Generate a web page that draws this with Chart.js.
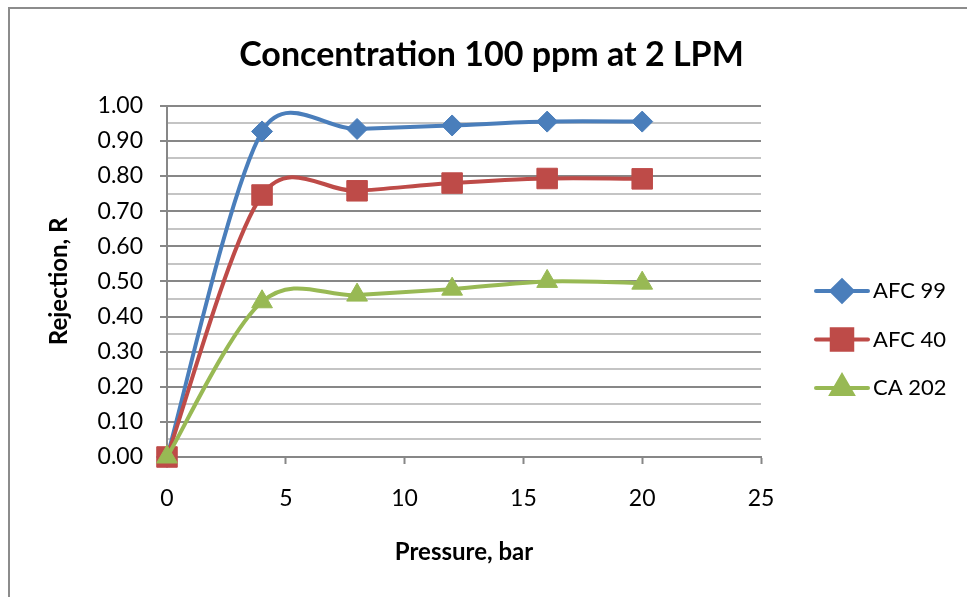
<!DOCTYPE html>
<html>
<head>
<meta charset="utf-8">
<script src="https://cdn.jsdelivr.net/npm/chart.js@4.4.1/dist/chart.umd.min.js"></script>
<style>
    html, body { margin: 0; padding: 0; background: #fff; }
    .chart-box { position: relative; width: 967px; height: 597px; }
</style>
</head>
<body>
<div class="chart-box"><canvas id="rejectionChart"></canvas></div>
<script>
const pressure = [0, 4, 8, 12, 16, 20];
const afc99 = [0, 0.927, 0.934, 0.944, 0.955, 0.955];
const afc40 = [0, 0.746, 0.758, 0.780, 0.793, 0.792];
const ca202 = [0, 0.442, 0.461, 0.478, 0.500, 0.495];
const seriesNames = ["AFC 99", "AFC 40", "CA 202"];

const FONT = "Lato, 'Open Sans', sans-serif";
const GRID_MAJOR = "#878787";
const GRID_MINOR = "#c4c4c4";

function toPoints(ys) {
    return pressure.map((x, i) => ({ x: x, y: ys[i] }));
}

function isMajor(v) {
    return Math.abs(Math.round(v * 10) - v * 10) < 1e-6;
}

// excel-ish smoothing: tangent along (next - prev), length capped by the neighbouring segment
const excelSmooth = {
    id: "excelSmooth",
    beforeDatasetsDraw(chart) {
        chart.getSortedVisibleDatasetMetas().forEach((meta) => {
            meta.dataset.updateControlPoints(chart.chartArea, "x");
            const pts = meta.data;
            const n = pts.length;
            pts.forEach((pt, i) => {
                const prev = pts[Math.max(i - 1, 0)];
                const next = pts[Math.min(i + 1, n - 1)];
                const tx = next.x - prev.x;
                const ty = next.y - prev.y;
                const tl = Math.hypot(tx, ty) || 1;
                const back = Math.min(tl / 6, 0.5 * Math.hypot(pt.x - prev.x, pt.y - prev.y));
                const fwd = Math.min(tl / 6, 0.5 * Math.hypot(next.x - pt.x, next.y - pt.y));
                pt.cp1x = pt.x - (tx / tl) * back;
                pt.cp1y = pt.y - (ty / tl) * back;
                pt.cp2x = pt.x + (tx / tl) * fwd;
                pt.cp2y = pt.y + (ty / tl) * fwd;
            });
        });
    },
};

// frame round the whole chart, and the legend at the right
const excelFrame = {
    id: "excelFrame",
    beforeDraw(chart) {
        const ctx = chart.ctx;
        ctx.save();
        ctx.fillStyle = "#fff";
        ctx.fillRect(0, 0, chart.width, chart.height);
        ctx.strokeStyle = "#8c8c8c";
        ctx.lineWidth = 2;
        ctx.strokeRect(9, 8, chart.width + 20, chart.height + 20);
        ctx.restore();
    },
    afterDraw(chart) {
        const ctx = chart.ctx;
        const sets = chart.data.datasets;
        ctx.save();
        ctx.font = "22px " + FONT;
        ctx.textBaseline = "middle";
        ctx.textAlign = "left";
        sets.forEach((ds, i) => {
            const y = 291 + i * 48.5;
            ctx.strokeStyle = ds.borderColor;
            ctx.lineWidth = 4;
            ctx.lineCap = "round";
            ctx.beginPath();
            ctx.moveTo(816, y);
            ctx.lineTo(868, y);
            ctx.stroke();
            ctx.fillStyle = ds.borderColor;
            Chart.helpers.drawPoint(ctx, {
                pointStyle: ds.pointStyle,
                radius: ds.pointRadius,
                borderWidth: 1,
                rotation: 0,
            }, 842, y);
            ctx.fill();
            ctx.fillStyle = "#000";
            ctx.fillText(ds.label, 873, y);
        });
        ctx.restore();
    },
};

var lineData = {
    datasets: [
        {
            label: seriesNames[0],
            data: toPoints(afc99),
            borderColor: "#4a7ebb",
            backgroundColor: "#4a7ebb",
            pointStyle: "rectRot",
            pointRadius: 10.5,
            order: 2,
        },
        {
            label: seriesNames[1],
            data: toPoints(afc40),
            borderColor: "#be4b48",
            backgroundColor: "#be4b48",
            pointStyle: "rect",
            pointRadius: 14.5,
            order: 1,
        },
        {
            label: seriesNames[2],
            data: toPoints(ca202),
            borderColor: "#98b954",
            backgroundColor: "#98b954",
            pointStyle: "triangle",
            pointRadius: 12,
            order: 0,
        },
    ],
};

new Chart(document.querySelector("#rejectionChart"), {
    type: "line",
    data: lineData,
    plugins: [excelFrame, excelSmooth],
    options: {
        responsive: true,
        maintainAspectRatio: false,
        animation: false,
        layout: { padding: { top: 0, left: 16, right: 0, bottom: 0 } },
        datasets: {
            line: {
                borderWidth: 4,
                tension: 0.5,
                clip: false,
                pointBorderWidth: 1,
                pointHoverRadius: 12,
            },
        },
        elements: { line: { capBezierPoints: false } },
        plugins: {
            legend: { display: false },
            tooltip: { enabled: false },
            title: {
                display: true,
                text: "Concentration 100 ppm at 2 LPM",
                color: "#000",
                font: { family: FONT, size: 34, weight: "bold" },
                padding: { top: 35, bottom: 30 },
            },
        },
        scales: {
            x: {
                type: "linear",
                min: 0,
                max: 25,
                afterFit(scale) { scale.height = 140; },
                ticks: {
                    stepSize: 5,
                    color: "#000",
                    padding: 21,
                    maxRotation: 0,
                    font: { family: FONT, size: 23 },
                },
                grid: {
                    drawOnChartArea: false,
                    drawTicks: true,
                    tickLength: 7,
                    tickColor: GRID_MAJOR,
                    tickWidth: 2,
                },
                border: { color: GRID_MAJOR, width: 2 },
                title: {
                    display: true,
                    text: "Pressure, bar",
                    color: "#000",
                    font: { family: FONT, size: 24, weight: "bold" },
                    padding: { top: 0, bottom: 30 },
                },
            },
            y: {
                min: 0,
                max: 1,
                afterFit(scale) { scale.width = 151; },
                ticks: {
                    stepSize: 0.05,
                    autoSkip: false,
                    color: "#000",
                    padding: 17,
                    font: { family: FONT, size: 23 },
                    callback: (v) => (isMajor(v) ? v.toFixed(2) : ""),
                },
                grid: {
                    color: (c) => (isMajor(c.tick.value) ? GRID_MAJOR : GRID_MINOR),
                    tickColor: (c) => (isMajor(c.tick.value) ? GRID_MAJOR : "rgba(0,0,0,0)"),
                    lineWidth: 2,
                    tickLength: 7,
                },
                border: { color: GRID_MAJOR, width: 2 },
                title: {
                    display: true,
                    text: "Rejection, R",
                    color: "#000",
                    font: { family: FONT, size: 24, weight: "bold" },
                    padding: { top: 29, bottom: 0 },
                },
            },
            // empty space on the right where the legend sits
            legendSpace: {
                position: "right",
                display: true,
                afterFit(scale) { scale.width = 206; },
                ticks: { display: false },
                grid: { display: false },
                border: { display: false },
            },
        },
    },
});
</script>
</body>
</html>
